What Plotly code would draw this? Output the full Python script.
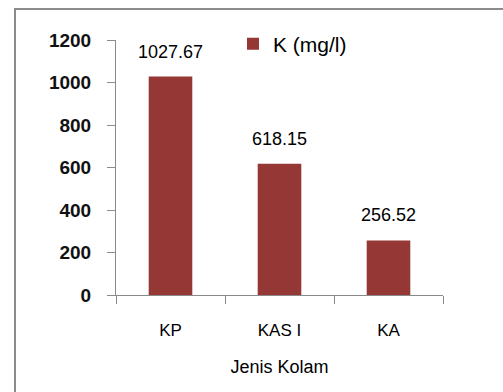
import plotly.graph_objects as go

# Potassium concentration per pond type
categories = ["KP", "KAS I", "KA"]
k_values = [1027.67, 618.15, 256.52]
value_labels = ["1027.67", "618.15", "256.52"]
y_ticks = [0, 200, 400, 600, 800, 1000, 1200]

BAR_COLOR = "#953735"
AXIS_COLOR = "#8a8a8a"
FONT = "Liberation Sans"

W, H = 503, 392
L, R, T, B = 116, 60, 40, 97
pw, ph = W - L - R, H - T - B

fig = go.Figure()
fig.add_trace(go.Bar(
    x=categories, y=k_values, name="K (mg/l)",
    marker=dict(color=BAR_COLOR, line=dict(width=0)),
    width=0.4,
))

# value labels above each bar
for c, v, lab in zip(categories, k_values, value_labels):
    fig.add_annotation(x=c, y=v, text=lab, showarrow=False,
                       yanchor="bottom", yshift=13,
                       font=dict(family=FONT, size=18, color="#000000"))

# outer chart frame
def px_x(x):
    return (x - L) / pw

def px_y(y):
    return (H - B - y) / ph

fig.add_shape(type="rect", xref="paper", yref="paper",
              x0=px_x(15), x1=px_x(520), y0=px_y(9), y1=px_y(410),
              line=dict(color="#8c8c8c", width=2), fillcolor="rgba(0,0,0,0)",
              layer="below")

fig.update_layout(
    width=W, height=H,
    margin=dict(l=L, r=R, t=T, b=B),
    paper_bgcolor="white", plot_bgcolor="white",
    font=dict(family=FONT, color="#111111"),
    showlegend=True,
    legend=dict(x=px_x(233), y=px_y(44), xanchor="left", yanchor="middle",
                font=dict(family=FONT, size=21, color="#000000"),
                bgcolor="rgba(0,0,0,0)"),
    bargap=0.6,
)
fig.update_xaxes(
    showline=True, linecolor=AXIS_COLOR, linewidth=1,
    ticks="outside", tickson="boundaries", ticklen=8, tickcolor=AXIS_COLOR,
    tickfont=dict(family=FONT, size=17, color="#000000"),
    ticklabelstandoff=20,
    title=dict(text="Jenis Kolam", font=dict(family=FONT, size=18, color="#000000"),
               standoff=20),
    showgrid=False,
)
fig.update_yaxes(
    range=[0, 1200], tickvals=y_ticks,
    showline=True, linecolor=AXIS_COLOR, linewidth=1,
    ticks="outside", ticklen=8, tickcolor=AXIS_COLOR,
    tickfont=dict(family=FONT, size=19, color="#111111", weight="bold"),
    ticklabelstandoff=12,
    showgrid=False, zeroline=False,
)

fig.write_html("out.html")
